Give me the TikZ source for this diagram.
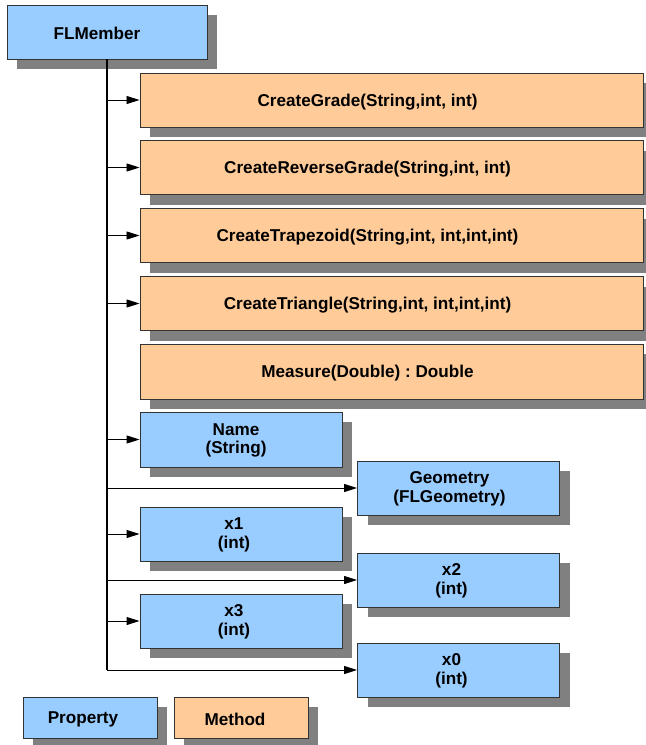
\documentclass[tikz,border=0pt]{standalone}
\usepackage{fontspec}
\setmainfont{Liberation Sans}
\usetikzlibrary{shadows,arrows.meta}
\definecolor{propblue}{HTML}{99CCFF}
\definecolor{methorange}{HTML}{FFCC99}
\definecolor{edgegray}{HTML}{333333}
\frenchspacing
\begin{document}
\begin{tikzpicture}[x=1bp,y=-1bp,
  box/.style={draw=edgegray, line width=0.9bp, inner sep=0pt,
    drop shadow={shadow xshift=10bp, shadow yshift=-10bp, fill=black!50, opacity=1}},
  prop/.style={box, fill=propblue},
  meth/.style={box, fill=methorange},
  member/.style={minimum width=202bp, minimum height=54bp},
  method/.style={minimum width=503bp, minimum height=54bp},
  legend/.style={minimum width=134bp, minimum height=41bp},
  lbl/.style={font=\bfseries\fontsize{17.2}{18.8}\selectfont, align=center, inner sep=0pt},
  trunk/.style={line width=1.3bp, draw=black},
  branch/.style={line width=0.9bp, draw=black, -{Triangle[length=13bp,width=8bp]}}
]
\useasboundingbox (0,0) rectangle (646,745);

% class box
\node[prop, minimum width=200bp, minimum height=54bp] (flm) at (107,32) {};
\node[lbl] (flmT) at ([xshift=-10bp,yshift=-1.5bp]flm.center) {FLMember};

% methods
\node[meth, method] (grade) at (391.5,100) {};
\node[lbl] (gradeT) at ([xshift=-24bp,yshift=-2bp]grade.center) {CreateGrade(String,int, int)};
\node[meth, method] (rgrade) at (391.5,167.5) {};
\node[lbl] (rgradeT) at ([xshift=-24bp,yshift=-2bp]rgrade.center) {CreateReverseGrade(String,int, int)};
\node[meth, method] (trap) at (391.5,235.5) {};
\node[lbl] (trapT) at ([xshift=-24bp,yshift=-2bp]trap.center) {CreateTrapezoid(String,int, int,int,int)};
\node[meth, method] (tri) at (391.5,303.5) {};
\node[lbl] (triT) at ([xshift=-24bp,yshift=-2bp]tri.center) {CreateTriangle(String,int, int,int,int)};
\node[meth, method, minimum height=55bp] (meas) at (391.5,371.5) {};
\node[lbl] (measT) at ([xshift=-24bp,yshift=-2bp]meas.center) {Measure(Double) : Double};

% properties
\node[prop, member, minimum height=55bp] (name) at (241,439.5) {};
\node[lbl] (nameT) at ([xshift=-5bp,yshift=-1bp]name.center) {Name\\(String)};
\node[prop, member] (geom) at (458.5,488) {};
\node[lbl] (geomT) at ([xshift=-9bp,yshift=-1bp]geom.center) {Geometry\\(FLGeometry)};
\node[prop, member] (xone) at (241,534) {};
\node[lbl] (xoneT) at ([xshift=-7bp,yshift=-1bp]xone.center) {x1\\(int)};
\node[prop, member] (xtwo) at (458.5,580) {};
\node[lbl] (xtwoT) at ([xshift=-7bp,yshift=-1bp]xtwo.center) {x2\\(int)};
\node[prop, member] (xthree) at (241,621) {};
\node[lbl] (xthreeT) at ([xshift=-7bp,yshift=-1bp]xthree.center) {x3\\(int)};
\node[prop, member] (xzero) at (458.5,670) {};
\node[lbl] (xzeroT) at ([xshift=-7bp,yshift=-1bp]xzero.center) {x0\\(int)};

% connectors
\draw[trunk] (flm.south) -- (flm.south |- xzero.west);
\foreach \t in {grade, rgrade, trap, tri, name, geom, xone, xtwo, xthree, xzero}
  \draw[branch] (flm.south |- \t.west) -- (\t.west);

% legend
\node[prop, legend] (legp) at (90,717.5) {};
\node[lbl] (legpT) at ([xshift=-7bp,yshift=-1.5bp]legp.center) {Property};
\node[meth, legend] (legm) at (241,717.5) {};
\node[lbl] (legmT) at ([xshift=-6bp,yshift=-1.5bp]legm.center) {Method};
\end{tikzpicture}
\end{document}
